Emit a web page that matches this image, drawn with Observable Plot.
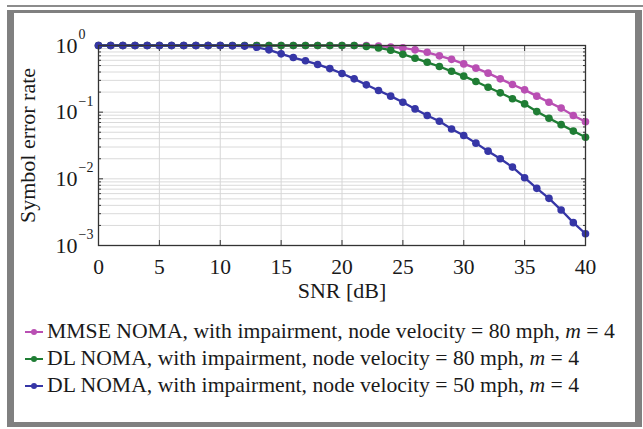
<!DOCTYPE html>
<html><head><meta charset="utf-8">
<script src="https://cdn.jsdelivr.net/npm/d3@7"></script>
<script src="https://cdn.jsdelivr.net/npm/@observablehq/plot@0.6"></script>
<style>
body{margin:0;width:643px;height:429px;position:relative;overflow:hidden;background:#fff;font-family:"Liberation Serif","Times New Roman",serif;}
#topline{position:absolute;left:7px;top:5px;width:636px;height:2px;background:#8c8c8c;}
#frame{position:absolute;left:7px;top:10px;width:635px;height:417px;box-sizing:border-box;border-style:solid;border-color:#808080;border-width:3px 7px 5px 7px;background:#fff;}
#chart{position:absolute;left:0;top:0;}
#legend{position:absolute;left:25px;top:318px;font-size:21.7px;color:#1a1a1a;}
.row{display:flex;align-items:center;height:27px;white-space:nowrap}
.row svg{margin-right:4px}
.row i{font-style:italic}
</style></head><body>
<div id="topline"></div><div id="frame"></div><div id="chart"></div><div id="legend"></div>
<script>
const snr = [0,1,2,3,4,5,6,7,8,9,10,11,12,13,14,15,16,17,18,19,20,21,22,23,24,25,26,27,28,29,30,31,32,33,34,35,36,37,38,39,40];
const mmse80 = [1,1,1,1,1,1,1,1,1,1,1,1,1,1,1,1,1,1,1,1,1,1,1,0.98,0.95,0.92,0.86,0.79,0.70,0.62,0.53,0.457,0.385,0.316,0.26,0.216,0.174,0.141,0.115,0.089,0.072];
const dl80 = [1,1,1,1,1,1,1,1,1,1,1,1,1,1,1,1,1,1,1,1,1,1,0.97,0.92,0.85,0.74,0.645,0.56,0.484,0.41,0.347,0.288,0.237,0.195,0.159,0.133,0.102,0.081,0.065,0.052,0.042];
const dl50 = [1,1,1,1,1,1,1,1,1,1,1,0.99,0.98,0.94,0.86,0.75,0.66,0.59,0.52,0.45,0.38,0.316,0.257,0.211,0.174,0.141,0.112,0.089,0.073,0.056,0.0447,0.0343,0.026,0.020,0.015,0.0104,0.0072,0.0051,0.0034,0.0022,0.0015];
const seriesNames = ["MMSE NOMA, with impairment, node velocity = 80 mph, ", "DL NOMA, with impairment, node velocity = 80 mph, ", "DL NOMA, with impairment, node velocity = 50 mph, "];
const seriesColors = ["#b94fb3", "#1f7d34", "#3636a6"];
const xTicks = [0,5,10,15,20,25,30,35,40];
const xGrid = [5,10,15,20,25,30,35];
const yTicks = [1,0.1,0.01,0.001];
const yTickBase = ["10","10","10","10"];
const yExponents = ["0","\u22121","\u22122","\u22123"];
const yMinor = [0.002,0.003,0.004,0.005,0.006,0.007,0.008,0.009,0.02,0.03,0.04,0.05,0.06,0.07,0.08,0.09,0.2,0.3,0.4,0.5,0.6,0.7,0.8,0.9];
const xLabel = "SNR [dB]";
const yLabel = "Symbol error rate";
const mLabel = "m";
const mValue = " = 4";

const seriesValues = [mmse80, dl80, dl50];
const rows = [];
seriesValues.forEach((vals, s) => vals.forEach((v, i) => rows.push({series: seriesNames[s], x: snr[i], y: v})));

const chart = Plot.plot({
  width: 643, height: 429,
  marginLeft: 98, marginRight: 58, marginTop: 45, marginBottom: 184,
  x: {domain: [0, 40]},
  y: {type: "log", domain: [0.001, 1]},
  color: {domain: seriesNames, range: seriesColors},
  style: {background: "transparent", fontFamily: "Liberation Serif, serif", color: "#1a1a1a"},
  marks: [
    Plot.ruleY(yMinor.concat(yTicks.slice(1, 3)), {stroke: "#dadada", strokeWidth: 1}),
    Plot.ruleX(xGrid, {stroke: "#d6d6d6", strokeWidth: 1}),
    Plot.axisX({ticks: xTicks, tickSize: 0, tickPadding: 13, fontSize: 21.5, label: null, tickFormat: d => String(d)}),
    Plot.axisX({ticks: xTicks, tickSize: -5, tickFormat: () => "", label: null, stroke: "#333"}),
    Plot.axisX({anchor: "top", ticks: xTicks, tickSize: -5, tickFormat: () => "", label: null, stroke: "#333"}),
    Plot.axisY({anchor: "left", ticks: yMinor, tickSize: -3, tickFormat: () => "", label: null, stroke: "#333"}),
    Plot.axisY({anchor: "right", ticks: yMinor, tickSize: -3, tickFormat: () => "", label: null, stroke: "#333"}),
    Plot.axisY({anchor: "left", ticks: yTicks, tickSize: -5, tickFormat: () => "", label: null, stroke: "#333"}),
    Plot.axisY({anchor: "right", ticks: yTicks, tickSize: -5, tickFormat: () => "", label: null, stroke: "#333"}),
    Plot.line(rows, {x: "x", y: "y", z: "series", stroke: "series", strokeWidth: 2.3}),
    Plot.dot(rows, {x: "x", y: "y", fill: "series", r: 3.8}),
    Plot.frame({stroke: "#333", strokeWidth: 1.3}),
    Plot.text(yTicks, {y: d => d, text: (d, i) => yTickBase[i], frameAnchor: "left", textAnchor: "end", dx: -21, dy: 0, fontSize: 22}),
    Plot.text(yTicks, {y: d => d, text: (d, i) => yExponents[i], frameAnchor: "left", textAnchor: "start", dx: -20, dy: -11, fontSize: 14}),
    Plot.text([xLabel], {frameAnchor: "bottom", dy: 52, fontSize: 22}),
    Plot.text([yLabel], {frameAnchor: "left", textAnchor: "middle", rotate: -90, dx: -71, fontSize: 22})
  ]
});
document.getElementById("chart").append(chart);

const legend = document.getElementById("legend");
seriesNames.forEach((name, i) => {
  const row = document.createElement("div");
  row.className = "row";
  const c = seriesColors[i];
  row.innerHTML = `<svg width="18" height="12"><line x1="0" y1="6" x2="18" y2="6" stroke="${c}" stroke-width="2"/><circle cx="9" cy="6" r="3" fill="${c}"/></svg><span>${name}<i>${mLabel}</i>${mValue}</span>`;
  legend.append(row);
});
</script>
</body></html>
